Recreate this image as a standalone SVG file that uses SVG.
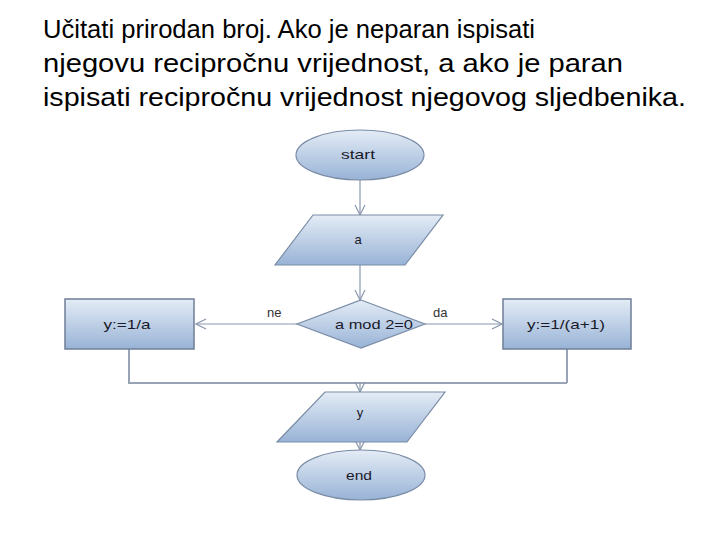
<svg xmlns="http://www.w3.org/2000/svg" width="720" height="540" viewBox="0 0 720 540">
<style>
.title{font-family:"Liberation Sans",Arial,sans-serif;font-size:25px;fill:#000}
.lbl{font-family:"Liberation Sans",Arial,sans-serif;font-size:13px;fill:#1a1a2a;text-anchor:middle;dominant-baseline:central}
.edge{font-family:"Liberation Sans",Arial,sans-serif;font-size:13px;fill:#333}
.shape{fill:url(#g);stroke:#7a8ca6;stroke-width:1.2}
.box{fill:url(#g);stroke:#6f7f96;stroke-width:1.5}
.con{fill:none;stroke:#8a98ad;stroke-width:1.2}
.bus{fill:none;stroke:#98a4b6;stroke-width:2}
</style>
<defs>
<linearGradient id="g" x1="0" y1="0" x2="0" y2="1">
<stop offset="0" stop-color="#e4ecf6"/>
<stop offset="1" stop-color="#98b3d6"/>
</linearGradient>
<marker id="arr" markerWidth="12" markerHeight="12" refX="11" refY="6" orient="auto" markerUnits="userSpaceOnUse">
<path d="M1,1 L11,6 L1,11" fill="none" stroke="#8a98ad" stroke-width="1.2"/>
</marker>
</defs>
<rect width="720" height="540" fill="#fff"/>
<text class="title" x="43" y="38" textLength="492" lengthAdjust="spacingAndGlyphs">Učitati prirodan broj. Ako je neparan ispisati</text>
<text class="title" x="43" y="72" textLength="580" lengthAdjust="spacingAndGlyphs">njegovu recipročnu vrijednost, a ako je paran</text>
<text class="title" x="43" y="106" textLength="643" lengthAdjust="spacingAndGlyphs">ispisati recipročnu vrijednost njegovog sljedbenika.</text>

<g id="connectors">
<line class="con" x1="360" y1="180" x2="360" y2="215" marker-end="url(#arr)"/>
<line class="con" x1="360" y1="265" x2="360" y2="300" marker-end="url(#arr)"/>
<line class="con" x1="298" y1="324" x2="196" y2="324" marker-end="url(#arr)"/>
<line class="con" x1="425" y1="324" x2="502" y2="324" marker-end="url(#arr)"/>
<polyline class="bus" points="129,349 129,383 567,383"/>
<line class="bus" x1="567" y1="349" x2="567" y2="383"/>
<line class="con" x1="360" y1="383" x2="360" y2="392" marker-end="url(#arr)"/>
<line class="con" x1="360" y1="442" x2="360" y2="450" marker-end="url(#arr)"/>
<text class="edge" x="267" y="317">ne</text>
<text class="edge" x="433" y="317">da</text>
</g>

<g id="start">
<ellipse class="shape" cx="360" cy="155" rx="64" ry="25"/>
<text class="lbl" x="358" y="154" textLength="34" lengthAdjust="spacingAndGlyphs">start</text>
</g>
<g id="input-a">
<polygon class="shape" points="313,215 443,215 405,265 275,265"/>
<text class="lbl" x="358" y="239">a</text>
</g>
<g id="decision">
<polygon class="shape" points="361,300 425,324 361,348 297,324"/>
<text class="lbl" x="374" y="324" textLength="78" lengthAdjust="spacingAndGlyphs">a mod 2=0</text>
</g>
<g id="left-box">
<rect class="box" x="65" y="299" width="129" height="50"/>
<text class="lbl" x="127" y="324" textLength="47" lengthAdjust="spacingAndGlyphs">y:=1/a</text>
</g>
<g id="right-box">
<rect class="box" x="503" y="299" width="128" height="50"/>
<text class="lbl" x="566" y="324" textLength="78" lengthAdjust="spacingAndGlyphs">y:=1/(a+1)</text>
</g>
<g id="output-y">
<polygon class="shape" points="325,392 445,392 407,442 277,442"/>
<text class="lbl" x="360" y="412">y</text>
</g>
<g id="end">
<ellipse class="shape" cx="361" cy="475" rx="64" ry="25"/>
<text class="lbl" x="359" y="475" textLength="26" lengthAdjust="spacingAndGlyphs">end</text>
</g>
</svg>
